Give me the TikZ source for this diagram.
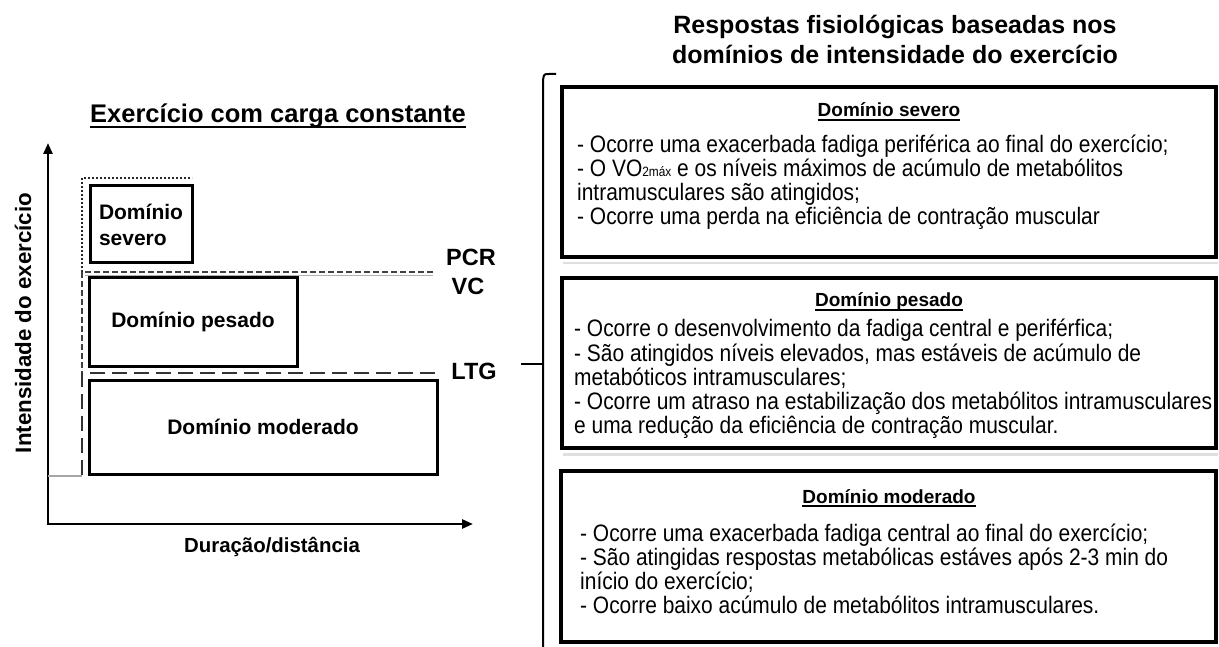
\documentclass[tikz,border=0pt]{standalone}
\usepackage{fontspec}
\setmainfont{Liberation Sans}
\newfontfamily\narrowsans{Liberation Sans}[FakeStretch=0.88]
\usetikzlibrary{arrows.meta}
\newcommand{\pxsize}[1]{\fontsize{#1}{#1}\selectfont}

\tikzset{
  axis/.style={line width=2.5pt, -{Triangle[length=11pt,width=9pt]}},
  dombox/.style={draw, line width=3pt, inner sep=0pt},
  domlabel/.style={font=\bfseries\fontsize{21}{26}\selectfont},
  thrlabel/.style={font=\bfseries\pxsize{23.5}, inner sep=0pt},
  respbox/.style={draw, line width=3.5pt, inner sep=0pt},
  rtitle/.style={font=\bfseries\pxsize{19}, inner sep=0pt, anchor=base},
  bodyline/.style={font=\narrowsans\pxsize{23.8}, inner sep=0pt, anchor=base west},
  bigtitle/.style={font=\bfseries\pxsize{25}, inner sep=0pt, anchor=base},
  uline/.style={line width=1.8pt},
  shadeline/.style={gray!25, line width=2.5pt}
}

\begin{document}
\begin{tikzpicture}[x=1pt, y=-1pt]
    \useasboundingbox (0,0) rectangle (1219,647);

    % Left: constant load exercise
    \node[bigtitle, font=\bfseries\pxsize{25.5}] (ltitle) at (278,123) {Exercício com carga constante};
    \draw[uline] ([yshift=-4pt]ltitle.base west) -- ([yshift=-4pt]ltitle.base east);

    % Axes
    \coordinate (O) at (48,524);
    \coordinate (ytop) at (48,143);
    \coordinate (xend) at (473,524);
    \draw[axis] ([yshift=1.25pt]O) -- (ytop);
    \draw[axis] ([xshift=-1.25pt]O) -- (xend);
    \node[font=\bfseries\pxsize{20.4}, inner sep=0pt] (xlab) at (272,547) {Duração/distância};
    \node[font=\bfseries\pxsize{22.3}, inner sep=0pt, rotate=90] (ylab) at (23,323) {Intensidade do exercício};

    % Threshold lines
    \draw[black!85, line width=2.8pt, dash pattern=on 2pt off 2pt] (82,272) -- (82,178) -- (192,178);
    \draw[black!75, line width=2pt, dash pattern=on 6pt off 3pt] (433,272) -- (82,272) -- (82,373);
    \draw[gray!60, line width=1pt] (85,275.5) -- (433,275.5);
    \draw[black!80, line width=2.5pt, dash pattern=on 15pt off 7pt] (435,373) -- (82,373) -- (82,476);
    \draw[gray!70, line width=1.2pt] (82,476) -- (48,476);

    \node[thrlabel] (pcr) at (471,257) {PCR};
    \node[thrlabel] (vc) at (468,286) {VC};
    \node[thrlabel] (ltg) at (474,371) {LTG};

    % Domain boxes
    \node[dombox, domlabel, align=left, minimum width=102pt, minimum height=77pt] (sev) at (141,224.5) {Domínio\\severo};
    \node[dombox, domlabel, minimum width=208pt, minimum height=88pt] (pes) at (193,322) {Domínio pesado};
    \node[dombox, domlabel, minimum width=348pt, minimum height=94pt] (mod) at (263,427) {Domínio moderado};

    % Right: responses
    \node[bigtitle] (rtitle1) at (895,34) {Respostas fisiológicas baseadas nos};
    \node[bigtitle] (rtitle2) at (895,64) {domínios de intensidade do exercício};

    % Bracket
    \coordinate (brtop) at (556,74);
    \coordinate (brbot) at (543,647);
    \coordinate (brmid) at (543,364);
    \coordinate (brtick) at (521,364);
    \draw[line width=2pt] (brtop) -- (549,74) .. controls (544,74) .. (543,80) -- (brbot);
    \draw[line width=2pt] (brmid) -- (brtick);

    % Response boxes
    \node[respbox, minimum width=654pt, minimum height=170pt] (bsev) at (889,172) {};
    \node[respbox, minimum width=654pt, minimum height=170pt] (bpes) at (889,363) {};
    \node[respbox, minimum width=655pt, minimum height=171pt] (bmod) at (888.5,556.5) {};
    \foreach \b in {bsev,bpes,bmod}
        \draw[shadeline] ([xshift=3pt,yshift=-4.5pt]\b.south west) -- ([yshift=-4.5pt]\b.south east);

    % Severe domain
    \node[rtitle] (tsev) at (889,117) {Domínio severo};
    \draw[uline] ([yshift=-3pt]tsev.base west) -- ([yshift=-3pt]tsev.base east);
    \foreach \yy/\txt [count=\i] in {
        153/{- Ocorre uma exacerbada fadiga periférica ao final do exercício;},
        177/{- O VO{\pxsize{13.5}2máx} e os níveis máximos de acúmulo de metabólitos},
        201/{intramusculares são atingidos;},
        225/{- Ocorre uma perda na eficiência de contração muscular}%
    } {
        \node[bodyline] (sev-\i) at (577,\yy) {\txt};
    }

    % Heavy domain
    \node[rtitle] (tpes) at (889,307) {Domínio pesado};
    \draw[uline] ([yshift=-3pt]tpes.base west) -- ([yshift=-3pt]tpes.base east);
    \foreach \yy/\txt [count=\i] in {
        337/{- Ocorre o desenvolvimento da fadiga central e periférfica;},
        361/{- São atingidos níveis elevados, mas estáveis de acúmulo de},
        385/{metabóticos intramusculares;},
        409/{- Ocorre um atraso na estabilização dos metabólitos intramusculares},
        433/{e uma redução da eficiência de contração muscular.}%
    } {
        \node[bodyline] (pes-\i) at (574,\yy) {\txt};
    }

    % Moderate domain
    \node[rtitle] (tmod) at (889,503) {Domínio moderado};
    \draw[uline] ([yshift=-3pt]tmod.base west) -- ([yshift=-3pt]tmod.base east);
    \foreach \yy/\txt [count=\i] in {
        541/{- Ocorre uma exacerbada fadiga central ao final do exercício;},
        565/{- São atingidas respostas metabólicas estáves após 2-3 min do},
        589/{início do exercício;},
        613/{- Ocorre baixo acúmulo de metabólitos intramusculares.}%
    } {
        \node[bodyline] (mod-\i) at (580,\yy) {\txt};
    }
\end{tikzpicture}
\end{document}
